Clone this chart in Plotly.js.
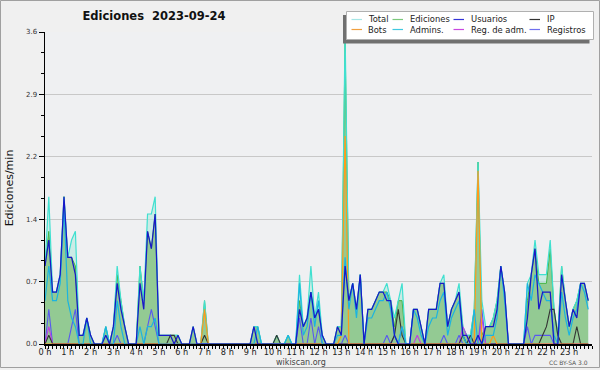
<!DOCTYPE html>
<html>
<head>
<meta charset="utf-8">
<script src="https://cdn.plot.ly/plotly-3.0.1.min.js"></script>
<style>html,body{margin:0;padding:0;background:#f0f0f0;}#chart{width:600px;height:370px;}</style>
</head>
<body>
<div id="chart"></div>
<script>
// 10-minute slots, values in edits per minute
const slotMinutes = 10;
const hourLabels = ["0 h","1 h","2 h","3 h","4 h","5 h","6 h","7 h","8 h","9 h","10 h","11 h","12 h","13 h","14 h","15 h","16 h","17 h","18 h","19 h","20 h","21 h","22 h","23 h"];
const yTickVals = [0, 0.72, 1.44, 2.16, 2.88, 3.6];
const yTickText = ["0.0","0.7","1.4","2.2","2.9","3.6"];

const total = [
 0.9,1.7,0.6,0.6,0.8,1.7,  1.0,1.2,1.3,0.1,0.1,0.3,
 0.1,0,0,0,0.2,0,          0.2,0.9,0.5,0.2,0,0,
 0,0.9,0.5,1.5,1.5,1.7,    0.1,0.1,0.1,0.1,0.1,0.1,
 0,0,0,0.2,0,0,            0.5,0,0,0,0,0,
 0,0,0,0,0,0,              0,0.2,0.2,0,0,0,
 0,0.1,0,0,0.1,0,          0,0.8,0.2,0.3,0.9,0.3,
 0.6,0.1,0,0,0,0.2,        0.2,3.6,0.5,0.7,0.4,0.8,
 0,0.4,0.4,0.5,0.6,0.6,    0.7,0.5,0.3,0.5,0.7,0,
 0,0.4,0.4,0.2,0,0.4,      0.4,0.4,0.7,0.8,0.2,0.4,
 0.5,0.7,0.2,0.1,0.1,0.4,  2.1,0.5,0.2,0.2,0.3,0.5,
 0.9,0.6,0,0,0,0,          0,0.7,0.8,1.2,0.8,0.8,
 0.8,1.2,0.4,0.1,0.9,0.5,  0.2,0.4,0.5,0.7,0.7,0.5
];
const ediciones = [
 0.9,1.3,0.6,0.6,0.8,1.7,  1.0,1.0,0.9,0.1,0.1,0.3,
 0.1,0,0,0,0.2,0,          0.2,0.8,0.5,0.2,0,0,
 0,0.9,0.5,1.3,1.1,1.5,    0.1,0.1,0.1,0.1,0.1,0.1,
 0,0,0,0.2,0,0,            0.5,0,0,0,0,0,
 0,0,0,0,0,0,              0,0.2,0.2,0,0,0,
 0,0.1,0,0,0.1,0,          0,0.5,0.2,0.3,0.6,0.3,
 0.4,0.1,0,0,0,0.2,        0.2,3.5,0.5,0.7,0.4,0.8,
 0,0.4,0.4,0.5,0.6,0.6,    0.6,0.5,0.2,0.5,0.5,0,
 0,0.4,0.4,0.2,0,0.4,      0.4,0.4,0.7,0.7,0.2,0.4,
 0.5,0.6,0.2,0.1,0.1,0.4,  2.1,0.1,0.2,0.2,0.3,0.5,
 0.9,0.6,0,0,0,0,          0,0.5,0.8,1.1,0.7,0.7,
 0.7,1.1,0.4,0.1,0.9,0.5,  0.2,0.4,0.5,0.7,0.7,0.5
];
const usuarios = [
 0.9,1.2,0.6,0.6,0.8,1.7,  1.0,1.0,0.8,0.1,0.1,0.3,
 0.1,0,0,0,0.1,0,          0.2,0.7,0.4,0.2,0,0,
 0,0.7,0.4,1.3,1.1,1.5,    0.1,0.1,0.1,0.1,0,0.1,
 0,0,0,0.2,0,0,            0,0,0,0,0,0,
 0,0,0,0,0,0,              0,0.2,0,0,0,0,
 0,0,0,0,0,0,              0,0.4,0.2,0.3,0.6,0.3,
 0.4,0.1,0,0,0,0.2,        0.1,0.9,0.5,0.7,0.4,0.8,
 0,0.4,0.4,0.5,0.6,0.6,    0.5,0.5,0.1,0,0,0,
 0,0.4,0.4,0.2,0,0.4,      0.4,0.4,0.7,0.7,0.2,0.4,
 0.5,0.6,0.1,0.1,0,0,      0.1,0,0.2,0.2,0.2,0.4,
 0.9,0.6,0,0,0,0,          0,0.3,0.8,1.1,0.4,0.6,
 0.6,0.6,0,0,0.8,0.5,      0.2,0.4,0.3,0.7,0.7,0.5
];
const admins = [
 0.5,0.9,0.5,0.5,0.7,1.6,  0.5,0.3,0.2,0,0,0.3,
 0,0,0,0,0.2,0,            0,0.5,0.2,0,0,0,
 0,0.2,0,0.2,0.2,0.3,      0,0,0,0,0,0,
 0,0,0,0,0,0,              0,0,0,0,0,0,
 0,0,0,0,0,0,              0,0,0.2,0,0,0,
 0,0,0,0,0.1,0,            0,0.7,0.1,0.2,0.6,0.2,
 0.5,0,0,0,0,0.1,          0.1,1.0,0.4,0.7,0.3,0.8,
 0,0.3,0.3,0.4,0.5,0.5,    0.6,0.4,0.1,0,0.2,0,
 0,0.4,0.3,0.1,0,0.2,      0.3,0.3,0.5,0.6,0.1,0.3,
 0.4,0.5,0.1,0,0,0.4,      0,0,0.1,0.1,0.1,0.3,
 0.9,0.5,0,0,0,0,          0,0.7,0.5,0.8,0.7,0.6,
 0.5,0.5,0.1,0,0.6,0.3,    0.1,0.3,0.4,0.7,0.6,0.4
];
const ip = [
 0,0.1,0,0,0,0,  0,0,0,0,0,0,
 0,0,0,0,0,0,    0,0,0,0,0,0,
 0,0,0,0,0,0,    0,0,0,0.1,0.1,0,
 0,0,0,0,0,0,    0.1,0,0,0,0,0,
 0,0,0,0,0,0,    0,0,0,0,0,0,
 0,0.1,0,0,0,0,  0,0,0,0,0,0,
 0,0,0,0,0,0,    0,0,0,0,0,0,
 0,0,0,0,0,0,    0,0,0.1,0.4,0.1,0,
 0,0,0,0,0,0,    0,0,0,0,0,0,
 0,0,0.1,0,0.1,0, 0,0,0,0,0,0,
 0,0,0,0,0,0,    0,0,0,0,0,0.1,
 0.2,0.4,0.4,0.1,0,0, 0,0,0.2,0,0,0
];
const bots = [
 0,0,0,0,0,0,  0,0,0,0,0,0,
 0,0,0,0,0,0,  0,0,0,0,0,0,
 0,0,0,0,0,0,  0,0,0,0,0,0,
 0,0,0,0,0,0,  0.4,0,0,0,0,0,
 0,0,0,0,0,0,  0,0,0,0,0,0,
 0,0,0,0,0,0,  0,0,0,0,0,0,
 0,0,0,0,0,0,  0.1,2.4,0,0,0,0,
 0,0,0,0,0,0,  0,0,0,0,0,0,
 0,0,0,0,0,0,  0,0,0,0,0,0,
 0,0,0,0,0,0,  2.0,0,0,0,0.1,0,
 0,0,0,0,0,0,  0,0,0,0,0,0,
 0,0,0,0,0,0,  0,0,0,0,0,0
];
const regAdm = [
 0,0.2,0,0,0,0,  0,0,0,0,0,0,
 0,0,0,0,0,0,    0,0,0,0,0,0,
 0,0,0,0,0,0,    0,0,0,0,0,0,
 0,0,0,0,0,0,    0,0,0,0,0,0,
 0,0,0,0,0,0,    0,0,0,0,0,0,
 0,0,0,0,0,0,    0,0,0,0,0,0,
 0,0,0,0,0,0,    0,0,0,0,0,0,
 0,0,0,0,0,0,    0,0,0,0,0,0,
 0,0,0.1,0,0,0,  0,0,0,0,0,0,
 0,0,0.2,0.1,0,0, 0,0.3,0,0,0,0,
 0,0,0,0,0,0,    0,0,0,0,0,0,
 0,0,0,0,0,0,    0,0,0,0,0,0
];
const registros = [
 0,0.4,0,0,0,0,  0,0.2,0.4,0,0,0,
 0,0,0,0,0,0,    0,0.1,0,0,0,0,
 0,0,0,0.2,0.4,0.2, 0,0,0,0,0,0,
 0,0,0,0,0,0,    0,0,0,0,0,0,
 0,0,0,0,0,0,    0,0,0,0,0,0,
 0,0,0,0,0,0,    0,0.3,0,0,0.3,0,
 0.2,0,0,0,0,0,  0,0.1,0,0,0,0,
 0,0,0,0,0,0,    0.1,0,0.1,0,0.2,0,
 0,0,0,0,0,0,    0,0,0,0.1,0,0,
 0,0.1,0,0,0,0,  0,0.4,0,0,0,0,
 0,0,0,0,0,0,    0,0.2,0,0.1,0.1,0.1,
 0.1,0.1,0,0,0,0, 0,0,0,0,0,0
];

const seriesNames = ["Total","Ediciones","Usuarios","IP","Bots","Admins.","Reg. de adm.","Registros"];
const seriesColors = ["#40e0d0","#44b444","#1818c8","#333333","#ff9a1a","#1cb4e0","#c040e0","#5858f0"];
const legendColors = ["#a6e6e6","#7cc87c","#3434d8","#333333","#f0a040","#40c8e0","#c848e0","#7070ee"];

const hours = total.map((_, i) => i * slotMinutes / 60);
const C = {}; seriesNames.forEach((n, k) => C[n] = seriesColors[k]);

function line(name, y, w) {
  return {x: hours, y: y, mode: 'lines', name: name, line: {color: C[name], width: w}, hoverinfo: 'skip'};
}
const traces = [
  {x: hours, y: total, mode: 'lines', line: {width: 0}, fill: 'tozeroy', fillcolor: 'rgba(178,232,222,0.6)', hoverinfo: 'skip'},
  {x: hours, y: ediciones, mode: 'lines', line: {color: C["Ediciones"], width: 1}, fill: 'tozeroy', fillcolor: '#93ca93', hoverinfo: 'skip'},
  line("Total", total, 1.2),
  line("Registros", registros, 1.1),
  line("Reg. de adm.", regAdm, 1.1),
  line("IP", ip, 1.1),
  line("Bots", bots, 1.2),
  line("Admins.", admins, 1.2),
  line("Usuarios", usuarios, 1.25)
];

// pixel -> paper helpers for decorations
const L = 45, R = 8, T = 32, B = 26, W = 600, H = 370;
const pw = W - L - R, ph = H - T - B;
const px = x => (x - L) / pw;
const py = y => (H - B - y) / ph;

const shapes = [
  {type: 'rect', xref: 'paper', yref: 'paper', x0: px(0.5), x1: px(599.5), y0: py(0.5), y1: py(367.5), line: {color: '#a0a0a0', width: 1}, fillcolor: 'rgba(0,0,0,0)', layer: 'below'},
  {type: 'rect', xref: 'paper', yref: 'paper', x0: px(343), x1: px(589.5), y0: py(15), y1: py(43.5), line: {width: 0}, fillcolor: '#707070', layer: 'above'},
  {type: 'rect', xref: 'paper', yref: 'paper', x0: px(346.5), x1: px(593.5), y0: py(11.5), y1: py(39.5), line: {color: '#b0b0b0', width: 1}, fillcolor: '#ffffff', layer: 'above'}
];
const annotations = [
  {text: 'wikiscan.org', xref: 'paper', yref: 'paper', x: px(300.5), y: py(362), xanchor: 'center', yanchor: 'middle', showarrow: false, font: {family: 'DejaVu Sans', size: 8, color: '#444'}},
  {text: 'CC BY-SA 3.0', xref: 'paper', yref: 'paper', x: px(590), y: py(362.5), xanchor: 'right', yanchor: 'middle', showarrow: false, font: {family: 'DejaVu Sans', size: 6, color: '#555'}}
];
const colLine = [351.5, 392.5, 453.5, 529.5];
const colText = [365.5, 407.5, 468.5, 544.5];
const rowY = [19.5, 29.5];
seriesNames.forEach((n, k) => {
  const c = k % 4, r = Math.floor(k / 4);
  shapes.push({type: 'line', xref: 'paper', yref: 'paper', x0: px(colLine[c]), x1: px(colLine[c] + 10.5), y0: py(rowY[r]), y1: py(rowY[r]), line: {color: legendColors[k], width: 1.2}, layer: 'above'});
  annotations.push({text: n, xref: 'paper', yref: 'paper', x: px(colText[c]), y: py(rowY[r]), xanchor: 'left', yanchor: 'middle', showarrow: false, font: {family: 'DejaVu Sans', size: 8.4, color: '#222'}});
});

const layout = {
  width: W, height: H,
  margin: {l: L, r: R, t: T, b: B, pad: 0},
  paper_bgcolor: '#f0f0f0', plot_bgcolor: '#eff0f2',
  showlegend: false,
  title: {text: 'Ediciones\u00a0 2023-09-24', xref: 'container', yref: 'container', x: 154/600, y: 1 - 16/370, xanchor: 'center', yanchor: 'middle', font: {family: 'DejaVu Sans', size: 11.5, weight: 'bold', color: '#111'}},
  xaxis: {
    range: [0, 24], tickvals: hourLabels.map((_, h) => h), ticktext: hourLabels,
    ticks: 'outside', ticklen: 3, tickcolor: '#000', tickwidth: 1, ticklabelstandoff: -3,
    showline: true, linecolor: '#000', linewidth: 1.5, showgrid: false, zeroline: false,
    tickfont: {family: 'DejaVu Sans', size: 8.2, color: '#222'},
    minor: {dtick: 1/6, tick0: 0, ticks: 'outside', ticklen: 3, tickcolor: '#000', tickwidth: 1, showgrid: false},
    fixedrange: true
  },
  yaxis: {
    range: [0, 3.6], tickvals: yTickVals, ticktext: yTickText,
    ticks: 'outside', ticklen: 5, tickcolor: '#000', tickwidth: 1,
    showline: true, linecolor: '#000', linewidth: 1.5, zeroline: false,
    showgrid: true, gridcolor: '#c8c8c8', gridwidth: 1,
    tickfont: {family: 'DejaVu Sans', size: 7, color: '#333'},
    minor: {dtick: 0.24, tick0: 0, ticks: 'outside', ticklen: 3, tickcolor: '#000', tickwidth: 1, showgrid: false},
    title: {text: 'Ediciones/min', standoff: 10, font: {family: 'DejaVu Sans', size: 11, color: '#111'}},
    fixedrange: true
  },
  shapes: shapes,
  annotations: annotations
};
Plotly.newPlot('chart', traces, layout, {staticPlot: true, displayModeBar: false});
</script>
</body>
</html>
